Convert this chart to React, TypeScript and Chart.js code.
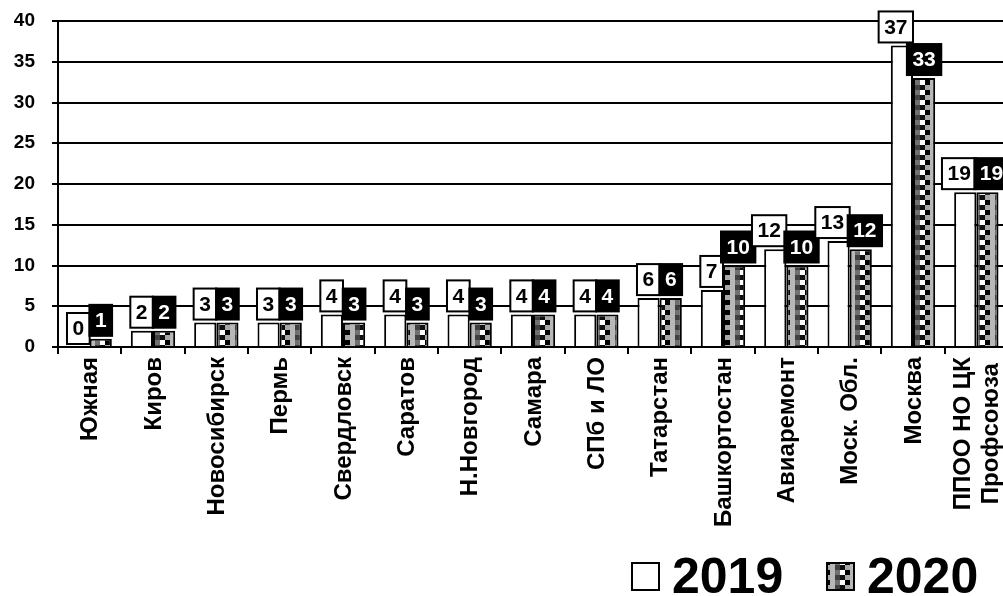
import React, { useEffect, useRef } from "react";
import { Chart, registerables } from "chart.js";

Chart.register(...registerables);

const categories: (string | string[])[] = [
  "Южная",
  "Киров",
  "Новосибирск",
  "Пермь",
  "Свердловск",
  "Саратов",
  "Н.Новгород",
  "Самара",
  "СПб и ЛО",
  "Татарстан",
  "Башкортостан",
  "Авиаремонт",
  "Моск. Обл.",
  "Москва",
  ["ППОО НО ЦК", "Профсоюза"],
];
const values2019 = [0, 2, 3, 3, 4, 4, 4, 4, 4, 6, 7, 12, 13, 37, 19];
const values2020 = [1, 2, 3, 3, 3, 3, 3, 4, 4, 6, 10, 10, 12, 33, 19];
const seriesNames = ["2019", "2020"];
const yMin = 0;
const yMax = 40;
const yStep = 5;

const FONT = "'Liberation Sans', Arial, sans-serif";

function makePattern(): CanvasPattern | string {
  const c = document.createElement("canvas");
  c.width = 20;
  c.height = 10;
  const g = c.getContext("2d");
  if (!g) return "#999";
  const cells = [
    ["#ffffff", "#000000", "#b8b8b8", "#707070"],
    ["#101010", "#a8a8a8", "#b8b8b8", "#404040"],
  ];
  for (let r = 0; r < 2; r++) {
    for (let col = 0; col < 4; col++) {
      g.fillStyle = cells[r][col];
      g.fillRect(col * 5, r * 5, 5, 5);
    }
  }
  return g.createPattern(c, "repeat") || "#999";
}

const xLabelPlugin = {
  id: "xLabels",
  afterDraw(chart: any) {
    const ctx = chart.ctx as CanvasRenderingContext2D;
    const scale = chart.scales.x;
    const lineH = 28;
    ctx.save();
    ctx.font = `bold 24px ${FONT}`;
    ctx.fillStyle = "#000";
    ctx.textBaseline = "middle";
    ctx.textAlign = "center";
    (chart.data.labels as (string | string[])[]).forEach((lab, i) => {
      const lines = Array.isArray(lab) ? lab : [lab];
      const maxW = Math.max(...lines.map((l) => ctx.measureText(l).width));
      const cx = scale.getPixelForTick(i);
      const top = scale.top + 10;
      ctx.save();
      ctx.translate(cx, top + maxW / 2);
      ctx.rotate(-Math.PI / 2);
      lines.forEach((l, k) => {
        const dy = (k - (lines.length - 1) / 2) * lineH;
        ctx.fillText(l, 0, dy + 1);
      });
      ctx.restore();
    });
    ctx.restore();
  },
};

const boxLabelPlugin = {
  id: "boxLabels",
  afterDatasetsDraw(chart: any) {
    const ctx = chart.ctx as CanvasRenderingContext2D;
    const m0 = chart.getDatasetMeta(0);
    const m1 = chart.getDatasetMeta(1);
    const H = 31;
    ctx.save();
    ctx.font = `bold 21px ${FONT}`;
    ctx.textAlign = "center";
    ctx.textBaseline = "middle";
    ctx.lineWidth = 2;
    m0.data.forEach((bar0: any, i: number) => {
      const bar1 = m1.data[i];
      const t0 = String(chart.data.datasets[0].data[i]);
      const t1 = String(chart.data.datasets[1].data[i]);
      const w0 = Math.max(bar0.width, ctx.measureText(t0).width + 11);
      const w1 = Math.max(bar1.width, ctx.measureText(t1).width + 11);
      const x0 = w0 > bar0.width + 0.5 ? bar0.x + bar0.width / 2 - w0 : bar0.x - w0 / 2;
      let x1 = bar1.x - w1 / 2;
      const y0 = bar0.y - 3 - H;
      const y1 = bar1.y - 3 - H;
      if (Math.abs(y0 - y1) < H && x1 < x0 + w0 - 2) x1 = x0 + w0 - 2;
      ctx.fillStyle = "#ffffff";
      ctx.strokeStyle = "#000000";
      ctx.fillRect(x0, y0, w0, H);
      ctx.strokeRect(x0, y0, w0, H);
      ctx.fillStyle = "#000000";
      ctx.fillText(t0, x0 + w0 / 2, y0 + H / 2 + 1);
      ctx.fillStyle = "#000000";
      ctx.fillRect(x1, y1, w1, H);
      ctx.strokeRect(x1, y1, w1, H);
      ctx.fillStyle = "#ffffff";
      ctx.fillText(t1, x1 + w1 / 2, y1 + H / 2 + 1);
    });
    ctx.restore();
  },
};

const legendPlugin = {
  id: "customLegend",
  afterDraw(chart: any) {
    const ctx = chart.ctx as CanvasRenderingContext2D;
    const starts = [632, 827];
    const top = 563;
    const size = 27;
    ctx.save();
    ctx.font = `bold 50px ${FONT}`;
    ctx.textAlign = "left";
    ctx.textBaseline = "alphabetic";
    chart.data.datasets.forEach((ds: any, i: number) => {
      const x = starts[i];
      ctx.fillStyle = ds.backgroundColor;
      ctx.fillRect(x, top, size, size);
      ctx.lineWidth = 2;
      ctx.strokeStyle = "#000";
      ctx.strokeRect(x, top, size, size);
      ctx.fillStyle = "#000";
      ctx.fillText(ds.label, x + size + 13, 593);
    });
    ctx.restore();
  },
};

export default function App() {
  const ref = useRef<HTMLCanvasElement | null>(null);
  useEffect(() => {
    if (!ref.current) return;
    const pattern = makePattern();
    const chart = new Chart(ref.current, {
      type: "bar",
      data: {
        labels: categories,
        datasets: [
          {
            label: seriesNames[0],
            data: values2019,
            backgroundColor: "#ffffff",
            borderColor: "#000000",
            borderWidth: 2,
            barPercentage: 1,
            categoryPercentage: 0.7,
          },
          {
            label: seriesNames[1],
            data: values2020,
            backgroundColor: pattern as any,
            borderColor: "#000000",
            borderWidth: 2,
            barPercentage: 1,
            categoryPercentage: 0.7,
          },
        ],
      },
      options: {
        responsive: false,
        animation: false,
        devicePixelRatio: 1,
        layout: { padding: { top: 21, right: 0, left: 0, bottom: 0 } },
        plugins: {
          legend: { display: false },
          tooltip: { enabled: false },
        },
        scales: {
          x: {
            offset: true,
            grid: {
              offset: true,
              drawOnChartArea: false,
              drawTicks: true,
              tickLength: 7,
              color: "#000",
              lineWidth: 2,
            },
            border: { display: true, color: "#000", width: 2 },
            ticks: {
              display: false,
              autoSkip: false,
            },
            afterFit: (scale: any) => {
              scale.height = 249;
              scale.paddingLeft = 0;
              scale.paddingRight = 0;
            },
          },
          y: {
            min: yMin,
            max: yMax,
            ticks: {
              stepSize: yStep,
              padding: 17,
              color: "#000",
              font: { family: FONT, size: 19, weight: "bold" },
            },
            grid: { color: "#000", lineWidth: 2, tickLength: 6 },
            border: { display: true, color: "#000", width: 2 },
            afterFit: (scale: any) => {
              scale.width = 58;
              scale.paddingTop = 0;
              scale.paddingBottom = 0;
            },
          },
        },
      },
      plugins: [boxLabelPlugin, xLabelPlugin, legendPlugin],
    });
    return () => chart.destroy();
  }, []);
  return (
    <div
      style={{
        position: "fixed",
        left: 0,
        top: 0,
        width: 1003,
        height: 596,
        overflow: "hidden",
        background: "#fff",
      }}
    >
      <canvas ref={ref} width={1008} height={596} style={{ display: "block" }} />
    </div>
  );
}
